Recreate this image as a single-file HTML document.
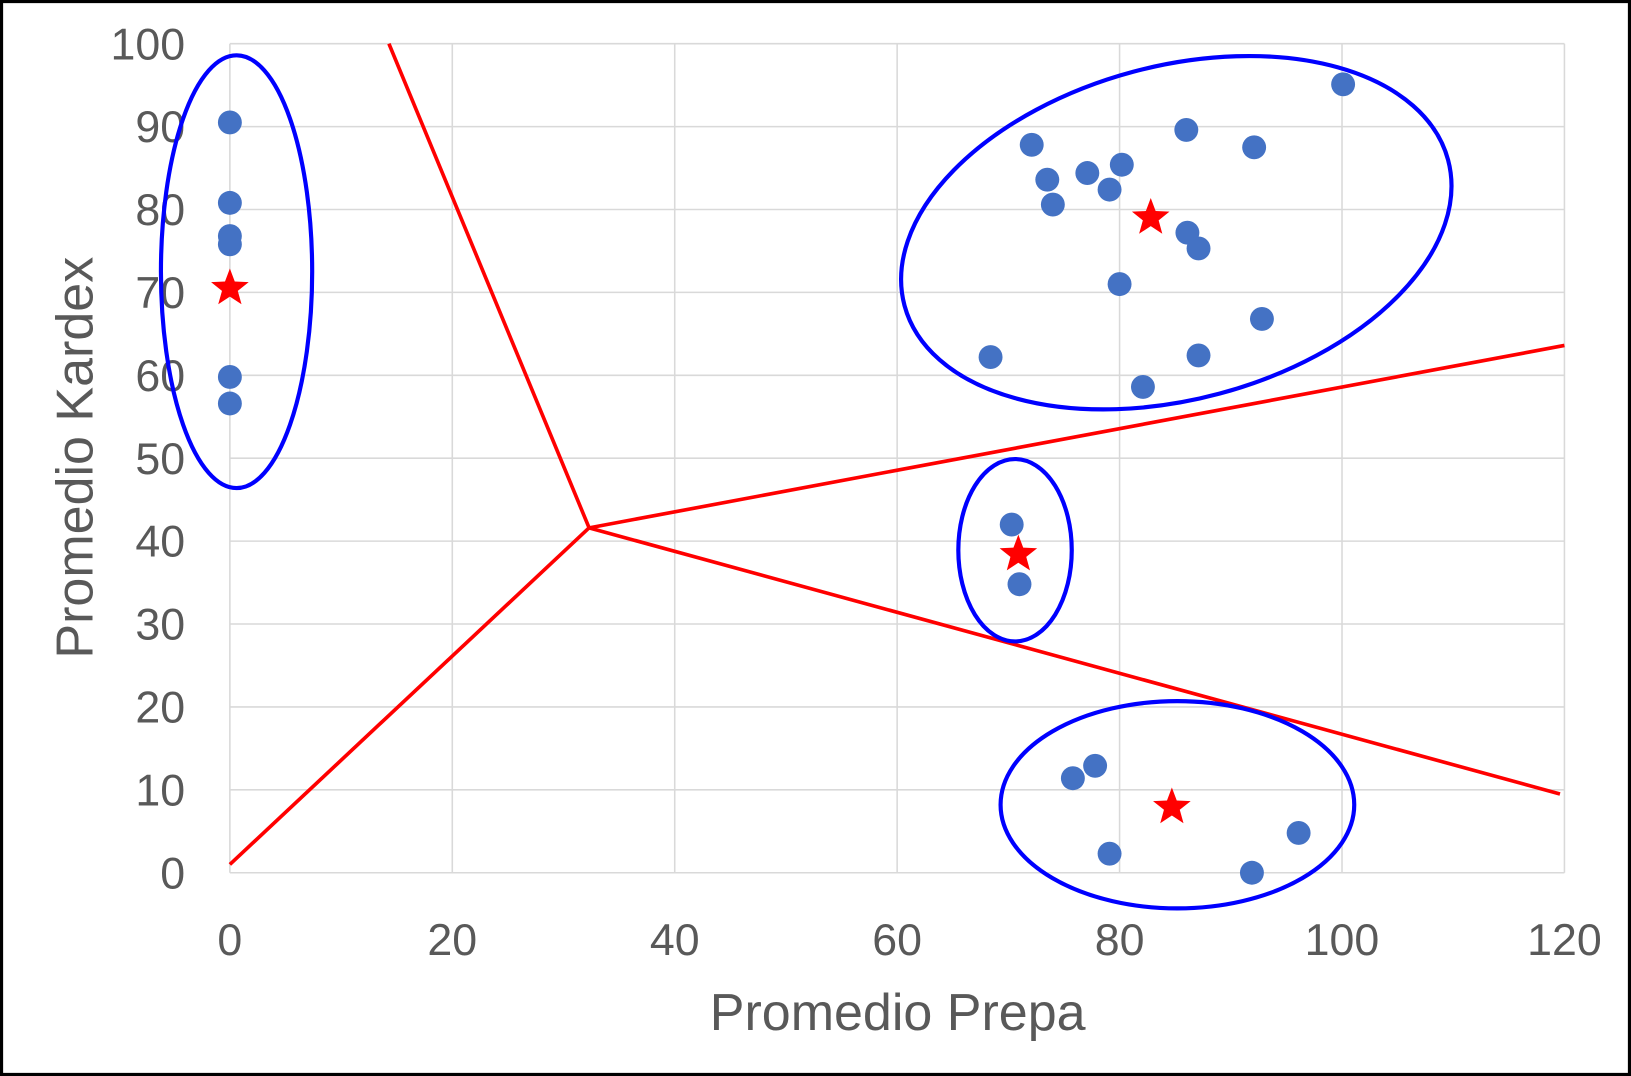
<!DOCTYPE html>
<html><head><meta charset="utf-8"><style>
html,body{margin:0;padding:0;background:#fff}
svg{display:block}
text{font-family:"Liberation Sans",sans-serif;fill:#595959}
</style></head><body>
<svg id="chart" width="1631" height="1076" viewBox="0 0 1568 1034.4" preserveAspectRatio="none" xmlns="http://www.w3.org/2000/svg">
<rect x="1.5" y="1.5" width="1565" height="1031.4" fill="#fff" stroke="#000" stroke-width="3"/>
<g id="grid"></g>
<g id="ticks"></g>
<g id="lines"></g>
<g id="ellipses"></g>
<g id="points"></g>
<g id="stars"></g>
<text x="863" y="990" font-size="50" text-anchor="middle">Promedio Prepa</text>
<text x="0" y="0" font-size="50" text-anchor="middle" transform="translate(89,440) rotate(-90)">Promedio Kardex</text>
</svg>
<script>
const xTicks=[0,20,40,60,80,100,120];
const yTicks=[0,10,20,30,40,50,60,70,80,90,100];
const pointsX=[0,0,0,0,0,0,100.1,72.1,86.0,92.1,73.5,77.1,80.2,79.1,74.0,86.1,87.1,80.0,92.8,68.4,87.1,82.1,70.3,71.0,75.8,77.8,79.1,96.1,91.9];
const pointsY=[90.5,80.8,76.8,75.8,59.8,56.6,95.1,87.8,89.6,87.5,83.6,84.4,85.4,82.4,80.6,77.2,75.3,71.0,66.8,62.2,62.4,58.6,42.0,34.8,11.4,12.9,2.3,4.8,0];
const starsX=[0,82.8,70.9,84.7];
const starsY=[70.5,79.0,38.4,7.9];
const lineStart=[32.3,41.6];
const lineEndsX=[14.3,0,120,119.6];
const lineEndsY=[100,1,63.6,9.5];
const ellCX=[0.6,85.1,70.6,85.2];
const ellCY=[72.5,77.2,38.9,8.2];
const ellRX=[6.8,25.3,5.1,15.9];
const ellRY=[26.1,20.1,11.0,12.5];
const ellRot=[0,-15,0,0];

const X0=221,X1=1504,Y0=839,Y1=42;
const sx=v=>X0+(v-0)/120*(X1-X0);
const sy=v=>Y0-(v-0)/100*(Y0-Y1);
const NS="http://www.w3.org/2000/svg";
function mk(tag,parent){const e=document.createElementNS(NS,tag);document.getElementById(parent).appendChild(e);return e;}

xTicks.forEach(t=>{
  const l=mk('line','grid');
  
  
  l.setAttribute('x1',sx(t));l.setAttribute('x2',sx(t));l.setAttribute('y1',Y1);l.setAttribute('y2',Y0);
  l.setAttribute('stroke','#d9d9d9');l.setAttribute('stroke-width','1.5');
  const tx=mk('text','ticks');
  
  
  tx.setAttribute('x',sx(t));tx.setAttribute('y',918);tx.setAttribute('font-size','43');tx.setAttribute('text-anchor','middle');
  tx.textContent=t;
});
yTicks.forEach(t=>{
  const l=mk('line','grid');
  
  
  l.setAttribute('x1',X0);l.setAttribute('x2',X1);l.setAttribute('y1',sy(t));l.setAttribute('y2',sy(t));
  l.setAttribute('stroke','#d9d9d9');l.setAttribute('stroke-width','1.5');
  const tx=mk('text','ticks');
  
  
  tx.setAttribute('x',178);tx.setAttribute('y',sy(t)+15);tx.setAttribute('font-size','43');tx.setAttribute('text-anchor','end');
  tx.textContent=t;
});
lineEndsX.forEach((ex,i)=>{
  const l=mk('line','lines');
  
  
  l.setAttribute('x1',sx(lineStart[0]));l.setAttribute('y1',sy(lineStart[1]));
  l.setAttribute('x2',sx(ex));l.setAttribute('y2',sy(lineEndsY[i]));
  l.setAttribute('stroke','#ff0000');l.setAttribute('stroke-width','3.5');
});
ellCX.forEach((cx,i)=>{
  const e=mk('ellipse','ellipses');
  
  
  const px=sx(cx),py=sy(ellCY[i]);
  e.setAttribute('cx',px);e.setAttribute('cy',py);
  e.setAttribute('rx',sx(ellRX[i])-sx(0));e.setAttribute('ry',sy(0)-sy(ellRY[i]));
  e.setAttribute('transform','rotate('+ellRot[i]+' '+px+' '+py+')');
  e.setAttribute('fill','none');e.setAttribute('stroke','#0000ff');e.setAttribute('stroke-width','4');
});
pointsX.forEach((x,i)=>{
  const c=mk('circle','points');
  
  
  c.setAttribute('cx',sx(x));c.setAttribute('cy',sy(pointsY[i]));c.setAttribute('r','11.5');
  c.setAttribute('fill','#4472c4');
});
function starPath(cx,cy,R,r){let d='';for(let k=0;k<10;k++){const a=-Math.PI/2+k*Math.PI/5;const rr=k%2?r:R;d+=(k?'L':'M')+(cx+rr*Math.cos(a)).toFixed(1)+' '+(cy+rr*Math.sin(a)).toFixed(1);}return d+'Z';}
starsX.forEach((x,i)=>{
  const p=mk('path','stars');
  
  
  p.setAttribute('d',starPath(sx(x),sy(starsY[i]),19,8));
  p.setAttribute('fill','#ff0000');
});
</script>
</body></html>
